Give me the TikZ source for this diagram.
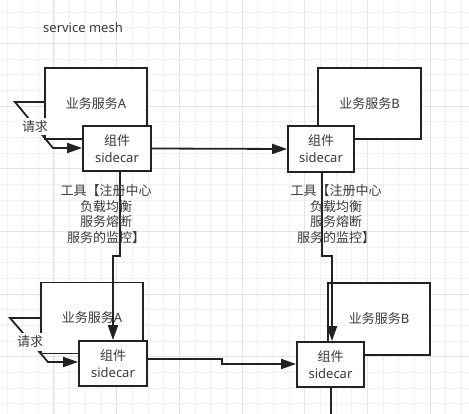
\documentclass[tikz,border=0pt]{standalone}
\usepackage{fontspec}
\setmainfont{Noto Sans}
\newfontfamily\cjk{Noto Sans CJK SC}
\usetikzlibrary{arrows.meta}
\definecolor{gridminor}{HTML}{F1F1F1}
\definecolor{gridmajor}{HTML}{E4E4E4}
\definecolor{linec}{HTML}{222222}
\definecolor{textc}{HTML}{3A3A3A}
\tikzset{
  box/.style={draw=linec, line width=1.8, fill=white, inner sep=0pt, text=textc,
    font=\fontsize{13}{17}\selectfont, align=center},
  conn/.style={draw=linec, line width=1.8},
  arr/.style={conn, -{Triangle[length=15, width=10]}},
  lbl/.style={text=textc, font=\fontsize{13}{15.6}\selectfont, align=center, inner sep=0pt},
  toollbl/.style={text=textc, font=\cjk\fontsize{13}{15.6}\selectfont, align=center, inner sep=0pt},
  reqlbl/.style={text=textc, font=\cjk\fontsize{13}{15.6}\selectfont, fill=white, inner sep=3pt}
}
\begin{document}
\begin{tikzpicture}[x=1pt, y=-1pt]
\useasboundingbox (0,0) rectangle (469,414);
\fill[white] (0,0) rectangle (469,414);
\begin{scope}
\clip (0,0) rectangle (469,414);
\foreach \i in {0,...,30} {
  \draw[gridminor, line width=0.8] ({6.9+15.675*\i},0) -- ({6.9+15.675*\i},414);
  \draw[gridminor, line width=0.8] (0,{11.96+15.675*\i}) -- (469,{11.96+15.675*\i});
}
\foreach \i in {-1,...,7} {
  \draw[gridmajor, line width=0.9] ({53.9+62.7*\i},0) -- ({53.9+62.7*\i},414);
  \draw[gridmajor, line width=0.9] (0,{43.3+62.7*\i}) -- (469,{43.3+62.7*\i});
}
\end{scope}

\node[lbl, anchor=west] (title) at (43,28) {service mesh};

% boxes
\node[box, minimum width=102, minimum height=71] (A) at (96,103.5) {{\cjk 业务服务}A};
\node[box, minimum width=68, minimum height=45] (sA) at (117,148.5) {{\cjk 组件}\\sidecar};
\node[box, minimum width=103, minimum height=71] (B) at (369.5,103.5) {{\cjk 业务服务}B};
\node[box, minimum width=66, minimum height=46] (sB) at (321,149) {{\cjk 组件}\\sidecar};
\node[box, minimum width=102, minimum height=71] (A2) at (92,318) {{\cjk 业务服务}A};
\node[box, minimum width=68, minimum height=45] (sA2) at (113,363.5) {{\cjk 组件}\\sidecar};
\node[box, minimum width=102, minimum height=72] (B2) at (379,319) {{\cjk 业务服务}B};
\node[box, minimum width=67, minimum height=45] (sB2) at (330.5,364.5) {{\cjk 组件}\\sidecar};

% coordinates
\coordinate (rq1) at (15,102);
\coordinate (rq1b) at (53,148);
\coordinate (rq2) at (10,318);
\coordinate (rq2b) at (48,362);
\coordinate (jA1) at (120,256);
\coordinate (jA2) at (113,256);
\coordinate (jB1) at (322,256);
\coordinate (jB2) at (332,256);
\coordinate (jC1) at (222,359);
\coordinate (jC2) at (222,364);
\coordinate (bot) at (331,414);

% connectors
\draw[arr] (A.west |- rq1) -- (rq1) -- (rq1b) -- (sA.west |- rq1b);
\draw[arr] (A2.west |- rq2) -- (rq2) -- (rq2b) -- (sA2.west |- rq2b);
\draw[arr] (sA.east) -- (sB.west);
\draw[arr] (sA.south -| jA1) -- (jA1) -- (jA2) -- (sA2.north -| jA2);
\draw[arr] (sB.south -| jB1) -- (jB1) -- (jB2) -- (sB2.north -| jB2);
\draw[arr] (sA2.east |- jC1) -- (jC1) -- (jC2) -- (sB2.west |- jC2);
\draw[conn] (sB2.south -| bot) -- (bot);

% labels
\node[reqlbl] (req1) at (35,126.5) {请求};
\node[reqlbl] (req2) at (30,342) {请求};
\node[toollbl] (tool1) at (106,214) {工具【注册中心\\负载均衡\\服务熔断\\服务的监控】};
\node[toollbl] (tool2) at (336,214) {工具【注册中心\\负载均衡\\服务熔断\\服务的监控】};
\end{tikzpicture}
\end{document}
